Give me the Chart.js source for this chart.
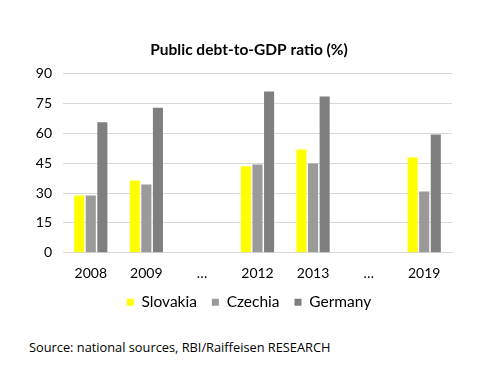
<!DOCTYPE html>
<html>
<head>
<meta charset="utf-8">
<script src="https://cdn.jsdelivr.net/npm/chart.js@4.4.1/dist/chart.umd.min.js"></script>
<style>
  html, body { margin: 0; padding: 0; background: #ffffff; }
  #wrap { position: relative; width: 498px; height: 379px; }
  #chartBox { position: absolute; left: 0; top: 0; width: 498px; height: 326px; }
  #source { position: absolute; left: 29px; top: 338px; font-family: "Open Sans", "Liberation Sans", sans-serif; font-size: 12.8px; color: #000; white-space: nowrap; }
</style>
</head>
<body>
<div id="wrap">
  <div id="chartBox"><canvas id="c"></canvas></div>
  <div id="source">Source: national sources, RBI/Raiffeisen RESEARCH</div>
</div>
<script>
const categories = ["2008", "2009", "…", "2012", "2013", "…", "2019"];
const slovakia = [28.8, 36.3, null, 43.5, 51.9, null, 47.8];
const czechia  = [28.7, 34.3, null, 44.3, 44.8, null, 30.8];
const germany  = [65.6, 72.8, null, 81.0, 78.5, null, 59.4];
const yTicks = [0, 15, 30, 45, 60, 75, 90];

const fontFam = "Lato, 'DejaVu Sans', sans-serif";

const legendShift = {
  id: 'legendShift',
  afterLayout(chart) {
    const lg = chart.legend;
    if (lg) { lg.top -= 6; lg.bottom -= 6; }
  }
};

new Chart(document.getElementById('c'), {
  type: 'bar',
  data: {
    labels: categories,
    datasets: [
      { label: 'Slovakia', data: slovakia, backgroundColor: '#FFFF00' },
      { label: 'Czechia',  data: czechia,  backgroundColor: '#9A9A9A' },
      { label: 'Germany',  data: germany,  backgroundColor: '#7F7F7F' }
    ]
  },
  plugins: [legendShift],
  options: {
    responsive: true,
    maintainAspectRatio: false,
    animation: false,
    layout: { padding: { left: 0, right: 0, top: 41, bottom: 0 } },
    datasets: { bar: { categoryPercentage: 0.625, barPercentage: 0.87 } },
    plugins: {
      title: {
        display: true,
        text: 'Public debt-to-GDP ratio (%)',
        color: '#000',
        font: { family: fontFam, size: 15.5, weight: 'bold' },
        padding: { top: 0, bottom: 14 }
      },
      legend: {
        position: 'bottom',
        labels: {
          boxWidth: 7, boxHeight: 7, color: '#000',
          font: { family: fontFam, size: 15.5 },
          padding: 15
        }
      },
      tooltip: { enabled: false }
    },
    scales: {
      x: {
        grid: { display: false },
        border: { display: true, color: '#D9D9D9' },
        ticks: { color: '#000', font: { family: fontFam, size: 14 }, padding: 4 }
      },
      y: {
        min: 0, max: 90,
        afterFit: (s) => { s.width = 63; },
        afterBuildTicks: (s) => { s.ticks = yTicks.map(v => ({ value: v })); },
        grid: { color: '#D9D9D9', drawTicks: false },
        border: { display: false },
        ticks: { color: '#000', font: { family: fontFam, size: 14 }, padding: 11 }
      },
      yRight: {
        position: 'right',
        min: 0, max: 90,
        afterFit: (s) => { s.width = 46; },
        grid: { display: false, drawTicks: false },
        border: { display: false },
        ticks: { display: false }
      }
    }
  }
});
</script>
</body>
</html>
